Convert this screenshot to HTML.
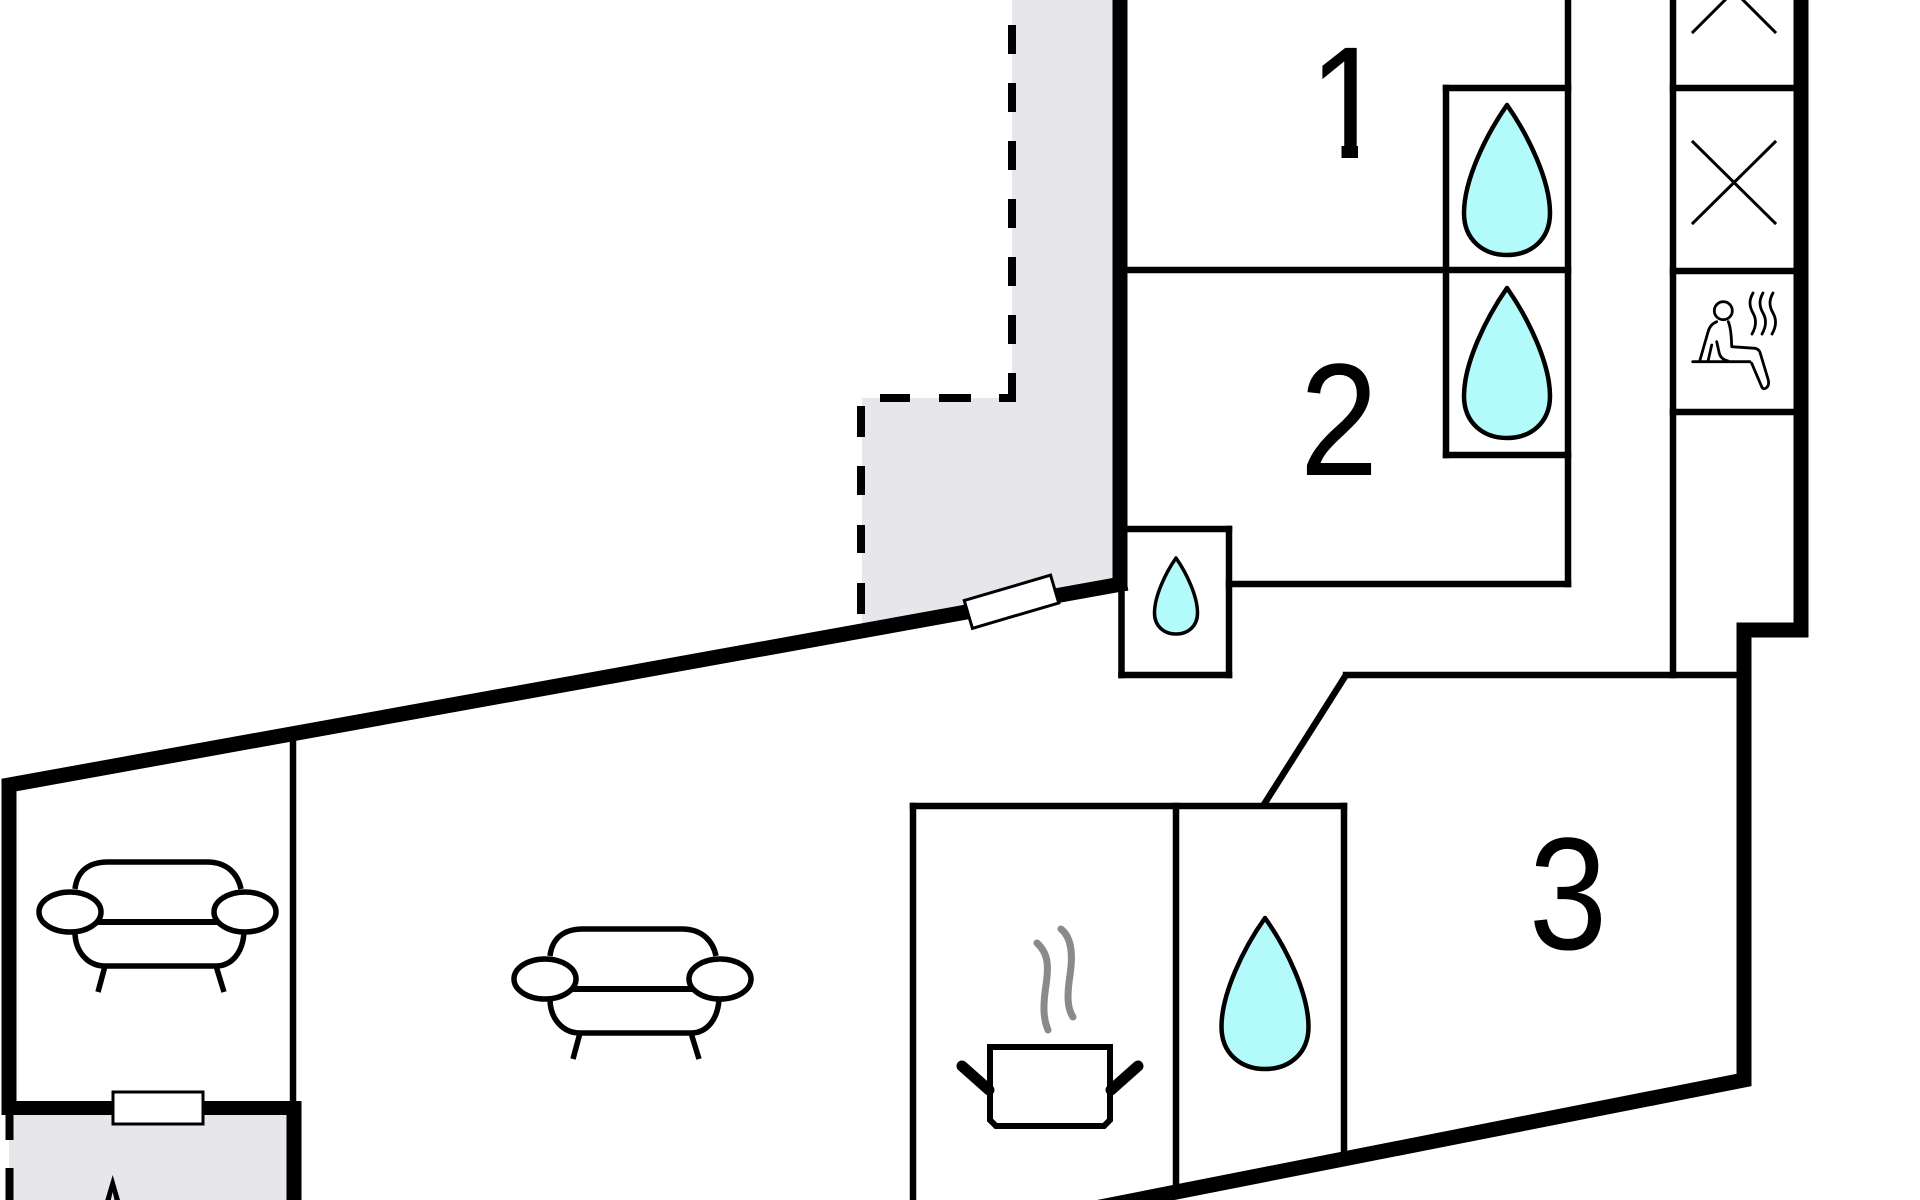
<!DOCTYPE html>
<html>
<head>
<meta charset="utf-8">
<style>
  html, body { margin:0; padding:0; background:#ffffff; }
  body { width:1920px; height:1200px; overflow:hidden; }
  svg { display:block; }
</style>
</head>
<body>
<svg width="1920" height="1200" viewBox="0 0 1920 1200" xmlns="http://www.w3.org/2000/svg">
  <rect x="0" y="0" width="1920" height="1200" fill="#ffffff"/>

  <!-- gray fills -->
  <polygon points="1012,0 1120,0 1120,584 862,631 862,398 1012,398" fill="#e6e6eb"/>
  <rect x="9" y="1108" width="285" height="92" fill="#e6e6eb"/>

  <!-- dashed outlines -->
  <g stroke="#000" stroke-width="8" fill="none">
    <line x1="1012" y1="25" x2="1012" y2="401" stroke-dasharray="29 29"/>
    <line x1="1016" y1="398" x2="999" y2="398"/>
    <line x1="971" y1="398" x2="939" y2="398"/>
    <line x1="910" y1="398" x2="880" y2="398"/>
    <line x1="861" y1="406" x2="861" y2="437"/>
    <line x1="861" y1="466" x2="861" y2="495"/>
    <line x1="861" y1="525" x2="861" y2="553"/>
    <line x1="861" y1="583" x2="861" y2="614"/>
    <line x1="9.5" y1="1115" x2="9.5" y2="1140"/>
    <line x1="9.5" y1="1168" x2="9.5" y2="1200"/>
  </g>

  <!-- thin walls -->
  <g stroke="#000" stroke-width="6.5" fill="none" stroke-linecap="square">
    <line x1="1568" y1="0" x2="1568" y2="584"/>
    <line x1="1229" y1="584" x2="1568" y2="584"/>
    <line x1="1127" y1="270" x2="1568" y2="270"/>
    <line x1="1446" y1="88" x2="1446" y2="455"/>
    <line x1="1446" y1="88" x2="1568" y2="88"/>
    <line x1="1446" y1="455" x2="1568" y2="455"/>
    <!-- small box -->
    <line x1="1121.5" y1="529" x2="1229" y2="529"/>
    <line x1="1229" y1="529" x2="1229" y2="675"/>
    <line x1="1121.5" y1="675" x2="1229" y2="675"/>
    <line x1="1121.5" y1="529" x2="1121.5" y2="675"/>
    <!-- right column -->
    <line x1="1673" y1="0" x2="1673" y2="675"/>
    <line x1="1673" y1="88" x2="1794" y2="88"/>
    <line x1="1673" y1="271" x2="1794" y2="271"/>
    <line x1="1673" y1="412" x2="1794" y2="412"/>
    <line x1="1346" y1="675" x2="1744" y2="675"/>
    <!-- kitchen -->
    <line x1="1263" y1="806" x2="1346" y2="675" stroke-linecap="butt"/>
    <line x1="913" y1="806" x2="1344" y2="806"/>
    <line x1="913" y1="806" x2="913" y2="1205"/>
    <line x1="1176" y1="806" x2="1176" y2="1192"/>
    <line x1="1344" y1="806" x2="1344" y2="1160"/>
    <!-- living divider -->
    <line x1="293" y1="735" x2="293" y2="1101"/>
  </g>

  <!-- thick walls -->
  <g stroke="#000" stroke-width="15" fill="none" stroke-linejoin="miter">
    <line x1="1120" y1="0" x2="1120" y2="591"/>
    <polyline points="1127,583 9,785 9,1115"/>
    <line x1="2" y1="1108" x2="301" y2="1108" stroke-width="14"/>
    <line x1="294" y1="1101" x2="294" y2="1200"/>
    <polyline points="1801,0 1801,630 1744,630 1744,1080 1080,1211"/>
  </g>

  <!-- windows -->
  <rect x="966.5" y="587.25" width="90" height="29" fill="#fff" stroke="#000" stroke-width="3" transform="rotate(-16.4 1011.5 601.75)"/>
  <rect x="113" y="1092" width="90" height="32" fill="#fff" stroke="#000" stroke-width="3"/>

  <!-- drops -->
  <g fill="#b3fafa" stroke="#000" stroke-width="4.5" stroke-linejoin="round">
    <path d="M1507,105 C1528,135 1550,180 1550,213 C1550,240 1530.6,255 1507,255 C1483.4,255 1464,240 1464,213 C1464,180 1486,135 1507,105 Z"/>
    <path d="M1507,288 C1528,318 1550,363 1550,396 C1550,423 1530.6,438 1507,438 C1483.4,438 1464,423 1464,396 C1464,363 1486,318 1507,288 Z"/>
    <path d="M1176,558 C1186.5,573 1197.5,596 1197.5,613 C1197.5,626.4 1187.8,634 1176,634 C1164.2,634 1154.5,626.4 1154.5,613 C1154.5,596 1165.5,573 1176,558 Z" stroke-width="3.5"/>
    <path d="M1265,918 C1286.5,948 1308.5,993.7 1308.5,1026.7 C1308.5,1053.9 1288.9,1069 1265,1069 C1241.1,1069 1221.5,1053.9 1221.5,1026.7 C1221.5,993.7 1243.5,948 1265,918 Z"/>
  </g>

  <!-- X marks -->
  <g stroke="#000" stroke-width="3" stroke-linecap="square">
    <line x1="1693" y1="32" x2="1775" y2="-50"/>
    <line x1="1775" y1="32" x2="1693" y2="-50"/>
    <line x1="1693" y1="142" x2="1775" y2="223"/>
    <line x1="1775" y1="142" x2="1693" y2="223"/>
  </g>

  <!-- sauna icon -->
  <g stroke="#000" stroke-width="2.8" fill="none" stroke-linecap="round" stroke-linejoin="round">
    <circle cx="1723.3" cy="310.7" r="9"/>
    <path d="M1716.7,321.7 C1711,324 1709,328 1708,332 L1700,360"/>
    <path d="M1728.3,321.7 C1731,328 1731.5,338 1731.7,346.7 L1755,348.3 C1758,349 1760,351 1760.5,354 L1768.3,380 C1770,388 1763,391 1761.7,386.7 L1751.7,363.3"/>
    <line x1="1692.7" y1="361.7" x2="1750" y2="361.7"/>
    <path d="M1711.7,345 L1708.3,360"/>
    <path d="M1716.7,341.7 L1719,352 C1720,358 1724,360 1728,361"/>
    <path d="M1753,293 C1749,300 1749,306 1753,313 C1757,320 1756,327 1752,334"/>
    <path d="M1763,293 C1759,300 1759,306 1763,313 C1767,320 1766,327 1762,334"/>
    <path d="M1773,293 C1769,300 1769,306 1773,313 C1777,320 1776,327 1772,334"/>
  </g>

  <!-- sofas -->
  <g stroke="#000" stroke-width="5.5" fill="none" stroke-linejoin="round">
    <path d="M75,889 C77,872 88,862 108,862 L207,862 C227,862 238,874 241,889"/>
    <ellipse cx="70" cy="912" rx="31" ry="20" fill="#fff"/>
    <ellipse cx="245" cy="912" rx="31" ry="20" fill="#fff"/>
    <path d="M97,922 L218,922" stroke-width="6"/>
    <path d="M75,932 C75,952 88,966 105,966 L216,966 C232,966 243,952 244,932"/>
    <path d="M105,966 L98,992"/>
    <path d="M216,966 L224,992"/>
  </g>
  <g transform="translate(475,67)" stroke="#000" stroke-width="5.5" fill="none" stroke-linejoin="round">
    <path d="M75,889 C77,872 88,862 108,862 L207,862 C227,862 238,874 241,889"/>
    <ellipse cx="70" cy="912" rx="31" ry="20" fill="#fff"/>
    <ellipse cx="245" cy="912" rx="31" ry="20" fill="#fff"/>
    <path d="M97,922 L218,922" stroke-width="6"/>
    <path d="M75,932 C75,952 88,966 105,966 L216,966 C232,966 243,952 244,932"/>
    <path d="M105,966 L98,992"/>
    <path d="M216,966 L224,992"/>
  </g>

  <!-- pot -->
  <g fill="none">
    <path d="M1037,943 C1048,953 1049,965 1046,985 C1043,1005 1043,1018 1048,1030" stroke="#8a8a8a" stroke-width="7" stroke-linecap="round"/>
    <path d="M1061,929 C1072,938 1073,955 1070,975 C1067,995 1067,1008 1073,1017" stroke="#8a8a8a" stroke-width="7" stroke-linecap="round"/>
    <path d="M990,1047 L1110,1047 L1110,1120 L1104,1126 L996,1126 L990,1120 Z" stroke="#000" stroke-width="6" fill="#fff"/>
    <line x1="962" y1="1066" x2="989" y2="1090" stroke="#000" stroke-width="11" stroke-linecap="round"/>
    <line x1="1138" y1="1066" x2="1111" y2="1090" stroke="#000" stroke-width="11" stroke-linecap="round"/>
  </g>

  <!-- stair arrow tip bottom-left -->
  <path d="M112.7,1175 L120,1200 L114.5,1200 L112.7,1192 L110.8,1200 L105.3,1200 Z" fill="#000"/>

  <!-- room numbers -->
  <g font-family="Liberation Sans, Arial, Helvetica, sans-serif" font-size="160" fill="#000" text-anchor="middle" style="font-family:'Liberation Sans', Arial, Helvetica, sans-serif;">
    <text transform="translate(1348,158) scale(0.88,1)">1</text>
    <text transform="translate(1339,475) scale(0.88,1)">2</text>
    <text transform="translate(1568,949) scale(0.88,1)">3</text>
  </g>
  <!-- mask the foot of the "1" so it matches the reference glyph -->
  <rect x="1295" y="146" width="46.5" height="17" fill="#fff"/>
  <rect x="1358" y="146" width="42" height="17" fill="#fff"/>
</svg>
</body>
</html>
